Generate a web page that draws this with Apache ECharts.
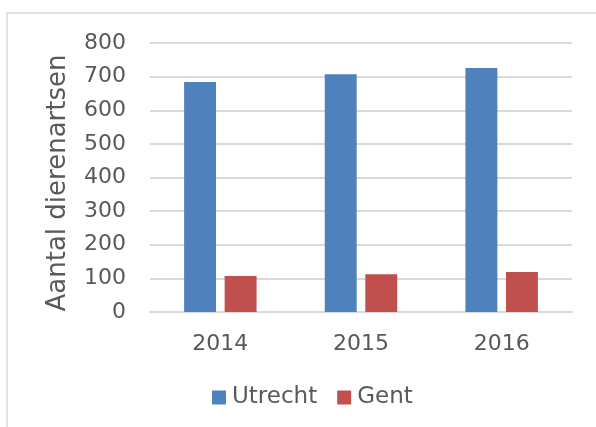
<!DOCTYPE html>
<html>
<head>
<meta charset="utf-8">
<script src="https://cdn.jsdelivr.net/npm/echarts@6/dist/echarts.min.js"></script>
<style>
  html, body { margin: 0; padding: 0; background: #fff; }
  #chart { width: 596px; height: 427px; }
</style>
</head>
<body>
<div id="chart"></div>
<script>
  // data
  const years = ['2014', '2015', '2016'];
  const utrecht = [684, 707, 726];
  const gent = [107, 112, 119];
  const yTicks = { min: 0, max: 800, interval: 100 };

  const chart = echarts.init(document.getElementById('chart'));
  const textColor = '#595959';
  const gridColor = '#d9d9d9';
  const font = 'DejaVu Sans';

  const option = {
    animation: false,
    textStyle: { fontFamily: font },
    // light frame around the chart area (top and left edges visible)
    graphic: [{
      type: 'rect',
      shape: { x: 7, y: 13, width: 620, height: 460 },
      style: { fill: 'none', stroke: gridColor, lineWidth: 1.5 },
      silent: true
    }],
    grid: { left: 150, right: 24, top: 43, bottom: 115 },
    legend: {
      left: 207,
      top: 381,
      itemWidth: 14,
      itemHeight: 14,
      itemGap: 20,
      icon: 'rect',
      textStyle: { color: textColor, fontSize: 23, fontFamily: font, padding: [0, 0, 0, 1] },
      data: ['Utrecht', 'Gent']
    },
    xAxis: {
      type: 'category',
      data: years,
      axisLine: { lineStyle: { color: gridColor, width: 2 } },
      axisTick: { show: false },
      axisLabel: { color: textColor, fontSize: 22, margin: 21, fontFamily: font }
    },
    yAxis: {
      type: 'value',
      min: yTicks.min,
      max: yTicks.max,
      interval: yTicks.interval,
      name: 'Aantal dierenartsen',
      nameLocation: 'middle',
      nameGap: 79,
      nameTextStyle: { color: textColor, fontSize: 26, fontFamily: font, padding: [0, 11, 0, 0] },
      axisLine: { show: false },
      axisTick: { show: false },
      axisLabel: { color: textColor, fontSize: 22, margin: 24, fontFamily: font },
      splitLine: { lineStyle: { color: gridColor, width: 2 } }
    },
    series: [
      {
        name: 'Utrecht',
        type: 'bar',
        data: utrecht,
        barWidth: '22.7%',
        barGap: '27%',
        itemStyle: { color: '#4f81bd' }
      },
      {
        name: 'Gent',
        type: 'bar',
        data: gent,
        barWidth: '22.7%',
        itemStyle: { color: '#c0504d' }
      }
    ]
  };

  chart.setOption(option);
</script>
</body>
</html>
